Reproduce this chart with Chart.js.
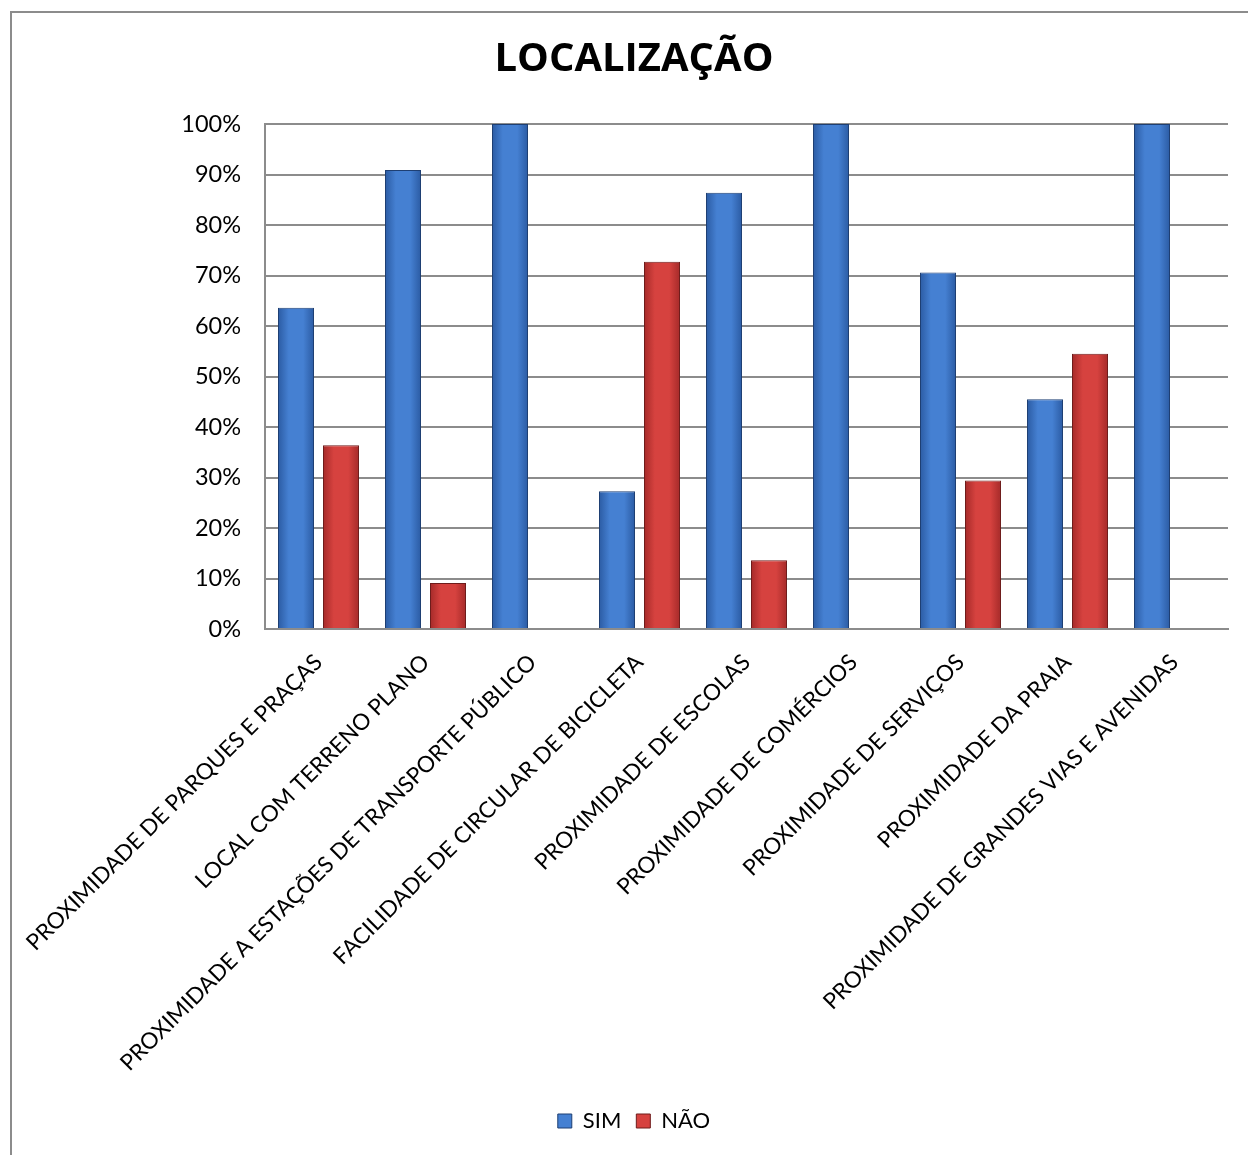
<!DOCTYPE html>
<html>
<head>
<meta charset="utf-8">
<script src="https://cdn.jsdelivr.net/npm/chart.js@4.4.1/dist/chart.umd.min.js"></script>
<style>
  html, body { margin: 0; padding: 0; background: #ffffff; }
  #wrap { position: relative; width: 1248px; height: 1155px; overflow: hidden; }
  #frame { position: absolute; left: 10px; top: 11px; width: 1300px; height: 1300px; border-left: 2px solid #8c8c8c; border-top: 2px solid #8c8c8c; box-sizing: border-box; }
  canvas { position: absolute; left: 0; top: 0; }
</style>
</head>
<body>
<div id="wrap">
  <div id="frame"></div>
  <canvas id="c" width="1248" height="1155"></canvas>
</div>
<script>
const title = "LOCALIZAÇÃO";
const categories = [
  "PROXIMIDADE DE PARQUES E PRAÇAS",
  "LOCAL COM TERRENO PLANO",
  "PROXIMIDADE A ESTAÇÕES DE TRANSPORTE PÚBLICO",
  "FACILIDADE DE CIRCULAR DE BICICLETA",
  "PROXIMIDADE DE ESCOLAS",
  "PROXIMIDADE DE COMÉRCIOS",
  "PROXIMIDADE DE SERVIÇOS",
  "PROXIMIDADE DA PRAIA",
  "PROXIMIDADE DE GRANDES VIAS E AVENIDAS"
];
const seriesNames = ["SIM", "NÃO"];
const simValues = [63.6, 90.9, 100, 27.3, 86.4, 100, 70.6, 45.5, 100];
const naoValues = [36.4, 9.1, 0, 72.7, 13.6, 0, 29.4, 54.5, 0];
const yTicks = [0, 10, 20, 30, 40, 50, 60, 70, 80, 90, 100];

const FONT = "Lato, 'Open Sans', sans-serif";
const CAT_PCT = 0.841;
const BAR_PCT = 0.8;

const palettes = [
  { edge: "#2b5ba3", mid: "#4580d2", border: "#1e3f73" },
  { edge: "#a52a29", mid: "#d6423f", border: "#6e1c1b" }
];

function barGradient(ctx) {
  const chart = ctx.chart;
  const pal = palettes[ctx.datasetIndex];
  const xs = chart.scales && chart.scales.x;
  if (!xs || ctx.dataIndex === undefined || !chart.chartArea) return pal.mid;
  const catW = xs.width / categories.length;
  const slot = catW * CAT_PCT / 2;
  const center = xs.getPixelForValue(ctx.dataIndex) + (ctx.datasetIndex === 0 ? -slot / 2 : slot / 2);
  const w = slot * BAR_PCT;
  const g = chart.ctx.createLinearGradient(center - w / 2, 0, center + w / 2, 0);
  g.addColorStop(0, pal.edge);
  g.addColorStop(0.3, pal.mid);
  g.addColorStop(0.7, pal.mid);
  g.addColorStop(1, pal.edge);
  return g;
}

new Chart(document.getElementById("c"), {
  type: "bar",
  data: {
    labels: categories,
    datasets: [
      { label: seriesNames[0], data: simValues, backgroundColor: barGradient, borderColor: palettes[0].border, borderWidth: 1 },
      { label: seriesNames[1], data: naoValues, backgroundColor: barGradient, borderColor: palettes[1].border, borderWidth: 1 }
    ]
  },
  options: {
    responsive: false,
    animation: false,
    devicePixelRatio: 1,
    layout: { padding: { left: 40, right: 20, top: 0, bottom: 13 } },
    datasets: { bar: { categoryPercentage: CAT_PCT, barPercentage: BAR_PCT } },
    plugins: {
      title: {
        display: true,
        text: title,
        color: "#000",
        font: { family: "'Open Sans', sans-serif", size: 40, weight: "bold" },
        padding: { top: 36, bottom: 40 }
      },
      legend: {
        position: "bottom",
        labels: {
          color: "#000",
          font: { family: FONT, size: 22 },
          boxWidth: 14,
          boxHeight: 14,
          padding: 15,
          generateLabels: (chart) => seriesNames.map((n, i) => ({
            text: n,
            fillStyle: palettes[i].mid,
            strokeStyle: palettes[i].border,
            lineWidth: 1,
            datasetIndex: i,
            hidden: false
          }))
        }
      },
      tooltip: { enabled: false }
    },
    scales: {
      x: {
        grid: { display: false, drawTicks: false },
        border: { display: true, color: "#8c8c8c", width: 2 },
        ticks: {
          color: "#000",
          font: { family: FONT, size: 22.5 },
          maxRotation: 45,
          minRotation: 45,
          autoSkip: false,
          padding: 20
        },
        afterFit: (s) => { s.height = 466; s.paddingLeft = 0; s.paddingRight = 0; }
      },
      y: {
        min: 0,
        max: 100,
        afterBuildTicks: (s) => { s.ticks = yTicks.map(v => ({ value: v })); },
        grid: { color: "#8c8c8c", lineWidth: 2, drawTicks: false },
        border: { display: true, color: "#8c8c8c", width: 2 },
        ticks: {
          color: "#000",
          font: { family: FONT, size: 23.5 },
          padding: 24,
          callback: (v) => v + "%"
        },
        afterFit: (s) => { s.width = 225; }
      }
    }
  }
});
</script>
</body>
</html>
